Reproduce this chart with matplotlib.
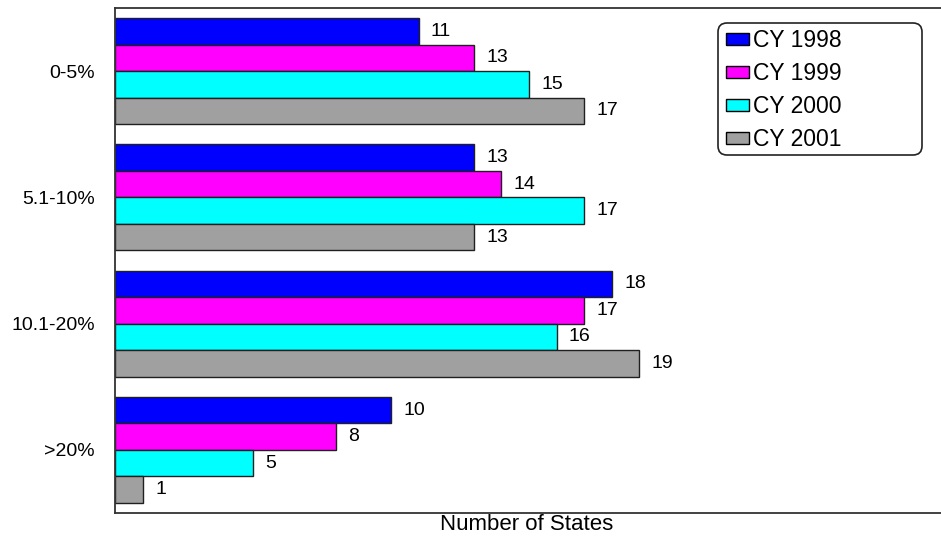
import numpy as np
import matplotlib.pyplot as plt
from matplotlib.patches import FancyBboxPatch
from matplotlib.transforms import IdentityTransform

plt.rcParams['font.family'] = ['Liberation Sans', 'DejaVu Sans']

categories = ['0-5%', '5.1-10%', '10.1-20%', '>20%']
years = ['CY 1998', 'CY 1999', 'CY 2000', 'CY 2001']
cy1998 = [11, 13, 18, 10]
cy1999 = [13, 14, 17, 8]
cy2000 = [15, 17, 16, 5]
cy2001 = [17, 13, 19, 1]
colors = ['#0000FF', '#FF00FF', '#00FFFF', '#A0A0A0']

series = [cy1998, cy1999, cy2000, cy2001]

W, H = 941, 540
fig = plt.figure(figsize=(W / 100, H / 100), dpi=100)
ax = fig.add_axes([115 / W, 1 - 513 / H, 1 - 115 / W + 0.002, 505 / H])

h = 0.21
y = np.arange(len(categories))
for i, (vals, col, lab) in enumerate(zip(series, colors, years)):
    pos = y - 1.5 * h + i * h
    bars = ax.barh(pos, vals, height=h, color=col, edgecolor='#202020',
                   linewidth=1.0, label=lab)
    for b, v in zip(bars, vals):
        ax.text(v + 0.45, b.get_y() + h / 2, str(v), va='center', ha='left',
                fontsize=14)

ax.set_xlim(0, 30)
ax.set_ylim(len(categories) - 0.5, -0.5)
ax.set_yticks(y)
ax.set_yticklabels(categories, fontsize=14)
ax.tick_params(axis='y', length=0, pad=14.5)
ax.set_xticks([])
for s in ['left', 'top', 'bottom']:
    ax.spines[s].set_color('#333333')
    ax.spines[s].set_linewidth(1.3)
ax.spines['right'].set_visible(False)

fig.text(527 / W, 1 - 524 / H, 'Number of States', fontsize=16,
         ha='center', va='center')

# legend entries without frame, rounded box drawn separately
leg = ax.legend(loc='upper left', bbox_to_anchor=(726 / W, 1 - 29 / H),
                bbox_transform=fig.transFigure, fontsize=16.5, frameon=False,
                handlelength=1.0, handleheight=0.42, handletextpad=0.18,
                borderpad=0, labelspacing=0.44, borderaxespad=0)
for p in leg.get_patches():
    p.set_edgecolor('black')
    p.set_linewidth(1.0)

box = FancyBboxPatch((718, H - 155), 204, 132,
                     boxstyle='round,pad=0,rounding_size=9',
                     transform=IdentityTransform(), facecolor='none',
                     edgecolor='#222222', linewidth=1.2)
fig.add_artist(box)

fig.savefig('out.png', dpi=100)
